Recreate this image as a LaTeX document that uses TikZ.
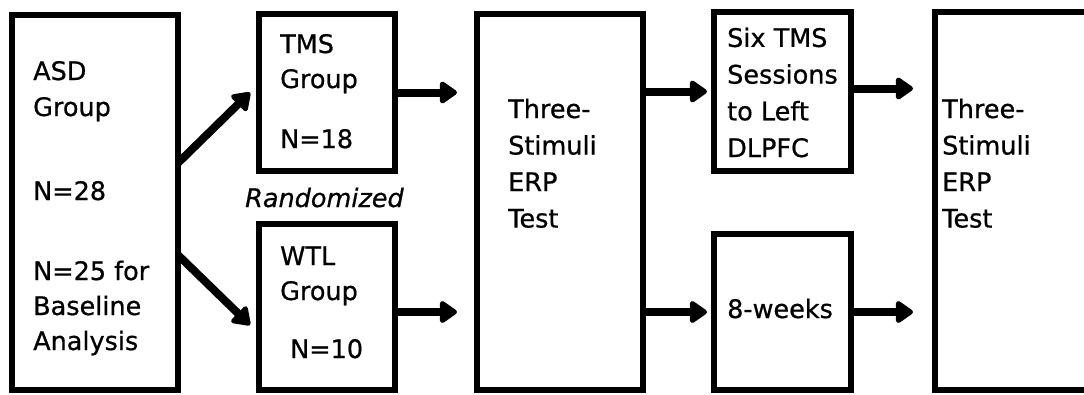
\documentclass[tikz,border=0pt]{standalone}
\usepackage{fontspec}
\setmainfont{DejaVu Sans}[FakeBold=0.7]
\usetikzlibrary{arrows.meta}
\begin{document}
\begin{tikzpicture}[x=1pt,y=-1pt,
  box/.style={draw, line width=5.5pt, inner sep=0pt, outer sep=0pt, fill=white},
  arr/.style={line width=8pt, -{Triangle[length=19pt,width=25pt,round]}},
  lbl/.style={anchor=base west, inner sep=0pt, align=left,
              font=\fontsize{25.5}{36}\selectfont}]
\useasboundingbox (0,0) rectangle (1084,394);
\clip (0,0) rectangle (1084,394);
\fill[white] (0,0) rectangle (1084,394);

% boxes (line centres in pixel units)
\node[box, minimum width=166pt, minimum height=375pt] (asd)   at (95,202.5)  {};
\node[box, minimum width=136pt, minimum height=157pt] (tms)   at (327,92.5)  {};
\node[box, minimum width=136pt, minimum height=166pt] (wtl)   at (327,307)   {};
\node[box, minimum width=166pt, minimum height=376pt] (three) at (560,202)   {};
\node[box, minimum width=137pt, minimum height=159pt] (six)   at (782.5,91.5){};
\node[box, minimum width=137pt, minimum height=156pt] (wk)    at (782.5,312) {};
\node[box, minimum width=170pt, minimum height=378pt] (last)  at (1020,201)  {};

% texts (each placed by the baseline of its last line)
\node[lbl] (asdA) at (33,116)  {ASD\\Group};
\node[lbl] (asdB) at (33,200) {N=28};
\node[lbl, font=\fontsize{25.5}{35}\selectfont] (asdC) at (33,350) {N=25 for\\Baseline\\Analysis};
\node[lbl, font=\fontsize{25.5}{35}\selectfont] (tmsA) at (280,88) {TMS\\Group};
\node[lbl] (tmsB) at (280,148) {N=18};
\node[lbl, font=\fontsize{25.5}{35}\selectfont] (wtlA) at (280,300) {WTL\\Group};
\node[lbl] (wtlB) at (290,358) {N=10};
\node[lbl, font=\fontsize{25.5}{36}\selectfont\itshape] (rand) at (245,207) {Randomized};
\node[lbl, font=\fontsize{25.5}{36.5}\selectfont] (threeT) at (508,227.5) {Three-\\Stimuli\\ERP\\Test};
\node[lbl, font=\fontsize{25.5}{36.7}\selectfont] (sixT) at (727,157) {Six TMS\\Sessions\\to Left\\DLPFC};
\node[lbl] (wkT) at (727,318) {8-weeks};
\node[lbl, font=\fontsize{25.5}{36.5}\selectfont] (lastT) at (942,227.5) {Three-\\Stimuli\\ERP\\Test};

% connector start points on box edges
\coordinate (asdUp) at ([yshift=39.5pt]asd.east);
\coordinate (asdDn) at ([yshift=-52.5pt]asd.east);
\coordinate (wtlOut) at ([yshift=-5pt]wtl.east);
\coordinate (sixOut) at ([yshift=3pt]six.east);

% connectors
\draw[arr] (asdUp) -- ([xshift=-9pt]tms.west);
\draw[arr] (asdDn) -- ([xshift=-9pt,yshift=-18pt]wtl.west);
\draw[arr, shorten >=20pt] (tms.east) -- (three.west |- tms.east);
\draw[arr, shorten >=20pt] (wtlOut) -- (three.west |- wtlOut);
\draw[arr, shorten >=7pt] (three.east |- six.west) -- (six.west);
\draw[arr, shorten >=7pt] (three.east |- wk.west) -- (wk.west);
\draw[arr, shorten >=22pt] (sixOut) -- (last.west |- sixOut);
\draw[arr, shorten >=22pt] (wk.east) -- (last.west |- wk.east);
\end{tikzpicture}
\end{document}
